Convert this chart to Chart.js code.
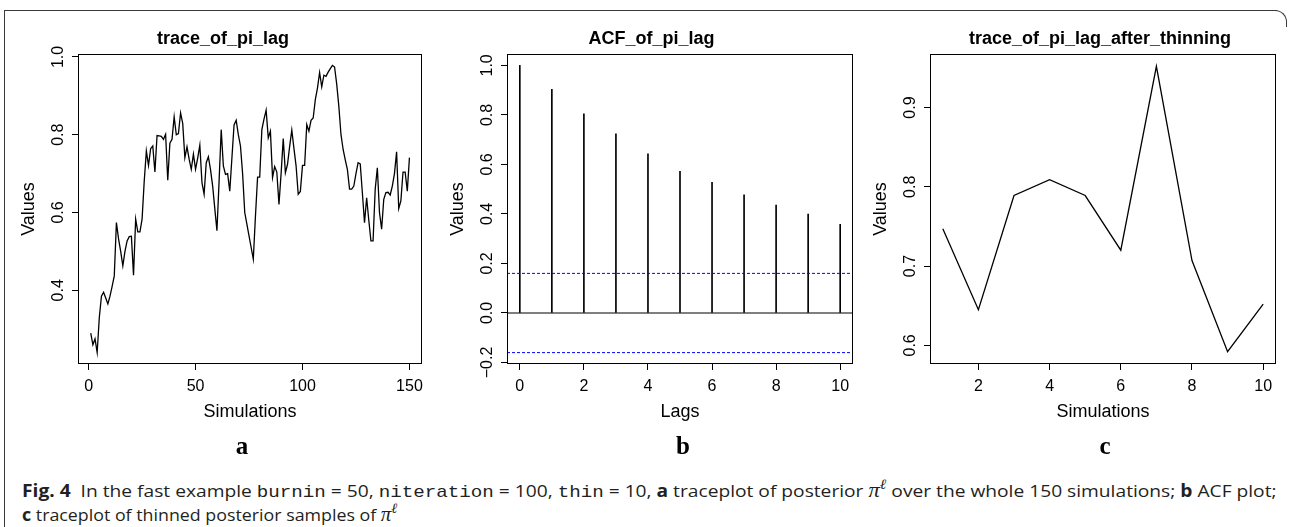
<!DOCTYPE html>
<html lang="en">
<head>
<meta charset="UTF-8">
<title>Fig. 4 - trace, ACF and thinned trace of pi lag</title>
<script src="https://cdn.jsdelivr.net/npm/chart.js"></script>
<style>
    body { margin: 0; width: 1290px; height: 527px; background: #fff; position: relative; overflow: hidden;
           font-family: "Liberation Sans", Arial, sans-serif; }
    .panel { position: absolute; top: 0; }
    /* cadre de la figure */
    .frame { position: absolute; left: 4px; top: 10px; width: 1272px; height: 540px;
             border-left: 1px solid #3a3a3a; border-top: 1px solid #3a3a3a; }
    .frame-corner { position: absolute; left: 1275px; top: 10px; width: 11px; height: 16px;
                    border-top: 1px solid #3a3a3a; border-right: 1px solid #3a3a3a; border-top-right-radius: 12px; }
    .tag { position: absolute; top: 432px; font: bold 25px "Liberation Serif", "DejaVu Serif", serif;
           transform: translateX(-50%); color: #000; }
    .cap { position: absolute; left: 22px; white-space: nowrap; font-size: 17px; line-height: 20px;
           transform-origin: 0 50%; color: #231f20; font-family: "Open Sans", "Liberation Sans", sans-serif; }
    .cap b { font-weight: bold; }
    .mono { font-family: "Liberation Mono", "DejaVu Sans Mono", monospace; font-size: 17px; }
    .pi { font-family: "Liberation Serif", serif; font-style: italic; font-size: 20px; }
    .cap sup { font-family: "Liberation Serif", serif; font-style: italic; font-size: 14px; vertical-align: 8px; }
</style>
</head>
<body>
    <div class="frame"></div>
    <div class="frame-corner"></div>

    <canvas id="traceChart" class="panel" style="left:0px" width="430" height="440"></canvas>
    <canvas id="acfChart" class="panel" style="left:429px" width="430" height="440"></canvas>
    <canvas id="thinChart" class="panel" style="left:852px" width="430" height="440"></canvas>

    <div class="tag" style="left:242px">a</div>
    <div class="tag" style="left:683px">b</div>
    <div class="tag" style="left:1105px">c</div>

    <div class="cap" id="cap1" style="top:475px"><b>Fig. 4</b>&nbsp; In the fast example <span class="mono">burnin</span> = 50, <span class="mono">niteration</span> = 100, <span class="mono">thin</span> = 10, <b>a</b> traceplot of posterior <span class="pi">π</span><sup>ℓ</sup> over the whole 150 simulations; <b>b</b> ACF plot;</div>
    <div class="cap" id="cap2" style="top:499px"><b>c</b> traceplot of thinned posterior samples of <span class="pi">π</span><sup>ℓ</sup></div>

<script>
    // Données : trace complète (150 simulations)
    const traceSims = Array.from({ length: 150 }, (_, i) => i + 1);
    const traceValues = [
        0.29, 0.26, 0.275, 0.24, 0.33, 0.385, 0.395, 0.38, 0.365, 0.385,
        0.41, 0.437, 0.574, 0.532, 0.50, 0.463, 0.50, 0.527, 0.538, 0.539,
        0.439, 0.583, 0.55, 0.55, 0.583, 0.68, 0.758, 0.721, 0.764, 0.771,
        0.704, 0.798, 0.797, 0.796, 0.788, 0.801, 0.683, 0.778, 0.788, 0.846,
        0.80, 0.803, 0.856, 0.829, 0.741, 0.769, 0.737, 0.711, 0.75, 0.711,
        0.74, 0.773, 0.677, 0.647, 0.728, 0.743, 0.71, 0.668, 0.61, 0.553,
        0.68, 0.813, 0.72, 0.698, 0.70, 0.655, 0.74, 0.825, 0.837, 0.80,
        0.771, 0.70, 0.60, 0.57, 0.54, 0.51, 0.48, 0.59, 0.691, 0.691,
        0.813, 0.84, 0.863, 0.792, 0.809, 0.690, 0.718, 0.704, 0.621, 0.70,
        0.79, 0.702, 0.724, 0.77, 0.812, 0.765, 0.72, 0.647, 0.654, 0.721,
        0.721, 0.826, 0.809, 0.837, 0.843, 0.89, 0.92, 0.96, 0.923, 0.953,
        0.95, 0.961, 0.97, 0.978, 0.974, 0.93, 0.873, 0.80, 0.762, 0.735,
        0.71, 0.66, 0.66, 0.668, 0.70, 0.728, 0.725, 0.65, 0.574, 0.638,
        0.58, 0.527, 0.527, 0.66, 0.715, 0.60, 0.557, 0.634, 0.651, 0.652,
        0.645, 0.668, 0.70, 0.756, 0.61, 0.63, 0.704, 0.704, 0.655, 0.741
    ];
    const traceXTicks = [0, 50, 100, 150];
    const traceYTicks = [0.4, 0.6, 0.8, 1.0];

    // Données : ACF
    const acfLags = [0, 1, 2, 3, 4, 5, 6, 7, 8, 9, 10];
    const acfValues = [1.0, 0.903, 0.804, 0.724, 0.643, 0.572, 0.528, 0.477, 0.436, 0.399, 0.358];
    const acfBounds = [0.16, -0.16];
    const acfXTicks = [0, 2, 4, 6, 8, 10];
    const acfYTicks = [-0.2, 0.0, 0.2, 0.4, 0.6, 0.8, 1.0];

    // Données : trace après thinning
    const thinSims = [1, 2, 3, 4, 5, 6, 7, 8, 9, 10];
    const thinValues = [0.747, 0.645, 0.789, 0.809, 0.789, 0.720, 0.952, 0.707, 0.592, 0.652];
    const thinXTicks = [2, 4, 6, 8, 10];
    const thinYTicks = [0.6, 0.7, 0.8, 0.9];

    const FONT = '"Liberation Sans", Arial, sans-serif';
    const fmtY = v => v.toFixed(1).replace('-', '\u2212');

    // Cadre + titre façon R
    const rBox = {
        id: 'rBox',
        afterDraw(chart, args, o) {
            const { ctx, chartArea: a } = chart;
            ctx.save();
            ctx.strokeStyle = '#000';
            ctx.lineWidth = 1;
            ctx.strokeRect(Math.round(a.left) + 0.5, Math.round(a.top) + 0.5,
                           Math.round(a.width) - 1, Math.round(a.height) - 1);
            ctx.fillStyle = '#000';
            ctx.font = 'bold 18px ' + FONT;
            ctx.textAlign = 'center';
            ctx.textBaseline = 'alphabetic';
            ctx.fillText(o.title, a.left + o.titleDx, o.titleY);
            ctx.restore();
        }
    };

    // Ligne zéro et bornes de confiance de l'ACF
    const acfLines = {
        id: 'acfLines',
        afterDatasetsDraw(chart) {
            const { ctx, chartArea: a, scales: { y } } = chart;
            ctx.save();
            ctx.strokeStyle = '#000';
            ctx.lineWidth = 1.2;
            const p0 = y.getPixelForValue(0);
            ctx.beginPath(); ctx.moveTo(a.left, p0); ctx.lineTo(a.right, p0); ctx.stroke();
            ctx.strokeStyle = '#0000ff';
            ctx.lineWidth = 1;
            ctx.setLineDash([3, 2]);
            acfBounds.forEach(b => {
                const p = y.getPixelForValue(b);
                ctx.beginPath(); ctx.moveTo(a.left, p); ctx.lineTo(a.right, p); ctx.stroke();
            });
            ctx.restore();
        }
    };

    function xScale(min, max, ticks, title) {
        return {
            type: 'linear', min: min, max: max, offset: false,
            afterBuildTicks: s => { s.ticks = ticks.map(v => ({ value: v })); },
            afterFit: s => { s.height = 76; },
            border: { display: false },
            grid: { drawOnChartArea: false, drawTicks: true, tickLength: 6, color: '#000', offset: false },
            ticks: { autoSkip: false, maxRotation: 0, padding: 7, color: '#000',
                     font: { family: FONT, size: 16 }, callback: v => String(v) },
            title: { display: true, text: title, color: '#000', font: { family: FONT, size: 18 },
                     padding: { top: 0, bottom: 17.5 } }
        };
    }

    function yScale(min, max, ticks, pad) {
        return {
            type: 'linear', min: min, max: max,
            afterBuildTicks: s => { s.ticks = ticks.map(v => ({ value: v })); },
            afterFit: s => { s.width = 78; },
            border: { display: false },
            grid: { drawOnChartArea: false, drawTicks: true, tickLength: 6, color: '#000' },
            ticks: { autoSkip: false, minRotation: 90, maxRotation: 90, crossAlign: 'center',
                     padding: pad, color: '#000', font: { family: FONT, size: 16 }, callback: v => fmtY(v) },
            title: { display: true, text: 'Values', color: '#000', font: { family: FONT, size: 18 },
                     padding: { top: 18, bottom: 0 } }
        };
    }

    function baseOptions(title, titleDx, titleY) {
        return {
            responsive: false, animation: false, devicePixelRatio: 1, events: [],
            layout: { padding: { top: 54, right: 6, bottom: 0, left: 0 } },
            plugins: { legend: { display: false }, tooltip: { enabled: false },
                       rBox: { title: title, titleDx: titleDx, titleY: titleY } }
        };
    }

    // a : trace complète
    const traceOpts = baseOptions('trace_of_pi_lag', 145, 44);
    traceOpts.scales = { x: xScale(-4.96, 155.96, traceXTicks, 'Simulations'), y: yScale(0.2105, 1.0075, traceYTicks, 2.4) };
    new Chart(document.getElementById('traceChart'), {
        type: 'line',
        data: { datasets: [{
            data: traceSims.map((s, i) => ({ x: s, y: traceValues[i] })),
            borderColor: '#000', borderWidth: 1.3, pointRadius: 0, tension: 0, fill: false
        }] },
        options: traceOpts,
        plugins: [rBox]
    });

    // b : ACF
    const acfOpts = baseOptions('ACF_of_pi_lag', 144.4, 44);
    acfOpts.scales = { x: xScale(-0.4, 10.4, acfXTicks, 'Lags'), y: yScale(-0.206, 1.046, acfYTicks, -2.3) };
    new Chart(document.getElementById('acfChart'), {
        type: 'bar',
        data: { datasets: [{
            data: acfLags.map((l, i) => ({ x: l, y: acfValues[i] })),
            backgroundColor: '#000', borderWidth: 0, barThickness: 1
        }] },
        options: acfOpts,
        plugins: [rBox, acfLines]
    });

    // c : trace après thinning
    const thinOpts = baseOptions('trace_of_pi_lag_after_thinning', 170, 44);
    thinOpts.scales = { x: xScale(0.64, 10.36, thinXTicks, 'Simulations'), y: yScale(0.5765, 0.9675, thinYTicks, 2.4) };
    new Chart(document.getElementById('thinChart'), {
        type: 'line',
        data: { datasets: [{
            data: thinSims.map((s, i) => ({ x: s, y: thinValues[i] })),
            borderColor: '#000', borderWidth: 1.3, pointRadius: 0, tension: 0, fill: false
        }] },
        options: thinOpts,
        plugins: [rBox]
    });

    // Légende : ajuste la largeur des lignes au modèle
    [['cap1', 1255], ['cap2', 376]].forEach(([id, w]) => {
        const el = document.getElementById(id);
        el.style.transform = 'scaleX(' + (w / el.scrollWidth) + ')';
    });
</script>
</body>
</html>
